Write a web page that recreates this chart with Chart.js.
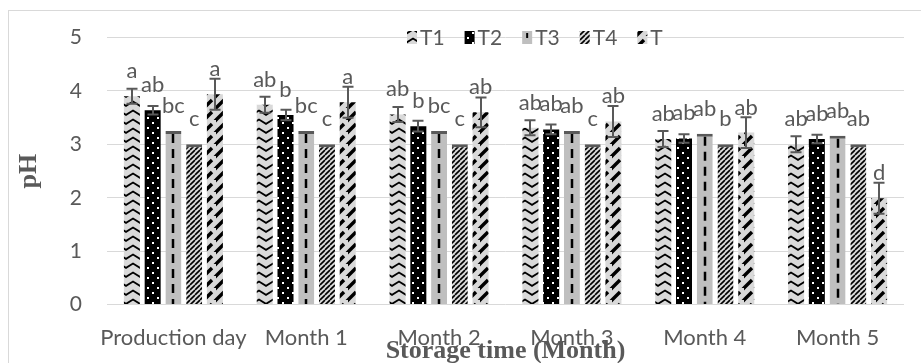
<!DOCTYPE html>
<html>
<head>
<meta charset="utf-8">
<script src="https://cdn.jsdelivr.net/npm/chart.js@4.4.1/dist/chart.umd.min.js"></script>
<style>
  html, body { margin: 0; padding: 0; background: #ffffff; }
  canvas { display: block; }
</style>
</head>
<body>
<canvas id="c" width="921" height="363"></canvas>
<script>
// ---- data ----
const categories = ['Production day', 'Month 1', 'Month 2', 'Month 3', 'Month 4', 'Month 5'];
const seriesNames = ['T1', 'T2', 'T3', 'T4', 'T'];
const t1Values = [3.90, 3.74, 3.56, 3.31, 3.10, 3.00];
const t2Values = [3.64, 3.55, 3.34, 3.28, 3.11, 3.10];
const t3Values = [3.25, 3.25, 3.25, 3.25, 3.20, 3.16];
const t4Values = [3.00, 3.00, 3.00, 3.00, 3.00, 3.00];
const tValues  = [3.94, 3.79, 3.60, 3.43, 3.22, 1.99];
const t1Errors = [0.14, 0.15, 0.14, 0.14, 0.15, 0.15];
const t2Errors = [0.08, 0.10, 0.10, 0.09, 0.08, 0.08];
const t3Errors = [0, 0, 0, 0, 0, 0];
const t4Errors = [0, 0, 0, 0, 0, 0];
const tErrors  = [0.29, 0.29, 0.28, 0.29, 0.29, 0.29];
const t1Letters = ['a', 'ab', 'ab', 'ab', 'ab', 'ab'];
const t2Letters = ['ab', 'b', 'b', 'ab', 'ab', 'ab'];
const t3Letters = ['bc', 'bc', 'bc', 'ab', 'ab', 'ab'];
const t4Letters = ['c', 'c', 'c', 'c', 'b', 'ab'];
const tLetters  = ['a', 'a', 'ab', 'ab', 'ab', 'd'];
const yTicks = [0, 1, 2, 3, 4, 5];

// ---- styles ----
const GRAY_TEXT = '#595959';
const FONT = 'Lato, "Open Sans", sans-serif';
const SERIF = '"Liberation Serif", "Times New Roman", serif';
const canvas = document.getElementById('c');
const ctx0 = canvas.getContext('2d');

function makePattern(w, h, draw) {
  const c = document.createElement('canvas');
  c.width = w; c.height = h;
  const g = c.getContext('2d');
  draw(g, w, h);
  return ctx0.createPattern(c, 'repeat');
}
const patZigzag = makePattern(14, 9, (g, w, h) => {
  g.fillStyle = '#d9d9d9'; g.fillRect(0, 0, w, h);
  g.strokeStyle = '#000'; g.lineWidth = 1.7;
  g.beginPath(); g.moveTo(-1, 7.5); g.lineTo(7, 2.5); g.lineTo(15, 7.5); g.stroke();
});
const patDots = makePattern(10, 10, (g, w, h) => {
  g.fillStyle = '#000'; g.fillRect(0, 0, w, h);
  g.fillStyle = '#fff'; g.fillRect(2, 2, 2, 2); g.fillRect(7, 7, 2, 2);
});
const patGray = '#bfbfbf';
const patStripes = makePattern(5, 5, (g, w, h) => {
  g.fillStyle = '#d9d9d9'; g.fillRect(0, 0, w, h);
  g.strokeStyle = '#000'; g.lineWidth = 1.6;
  g.beginPath();
  for (let k = -1; k <= 1; k++) { g.moveTo(k * w, h); g.lineTo(k * w + w, 0); }
  g.stroke();
});
const patWide = makePattern(12, 12, (g, w, h) => {
  g.fillStyle = '#d9d9d9'; g.fillRect(0, 0, w, h);
  g.strokeStyle = '#000'; g.lineWidth = 3.4; g.lineCap = 'butt';
  g.beginPath();
  g.moveTo(0, 12); g.lineTo(8, 4);
  g.moveTo(-6, 6); g.lineTo(2, -2);
  g.moveTo(6, 18); g.lineTo(14, 10);
  g.stroke();
});

const topBorder = { top: 3, left: 0, right: 0, bottom: 0 };
const datasets = [
  { label: seriesNames[0], data: t1Values, errors: t1Errors, letters: t1Letters, backgroundColor: patZigzag, borderWidth: 0 },
  { label: seriesNames[1], data: t2Values, errors: t2Errors, letters: t2Letters, backgroundColor: patDots, borderWidth: 0 },
  { label: seriesNames[2], data: t3Values, errors: t3Errors, letters: t3Letters, backgroundColor: patGray, centerDash: true, borderWidth: topBorder, borderColor: '#595959', borderSkipped: false },
  { label: seriesNames[3], data: t4Values, errors: t4Errors, letters: t4Letters, backgroundColor: patStripes, borderWidth: topBorder, borderColor: '#595959', borderSkipped: false },
  { label: seriesNames[4], data: tValues, errors: tErrors, letters: tLetters, backgroundColor: patWide, borderWidth: 0 }
];

// ---- plugins ----
const background = {
  id: 'background',
  beforeDraw(chart) {
    const c = chart.ctx;
    c.save();
    c.fillStyle = '#fff'; c.fillRect(0, 0, chart.width, chart.height);
    c.strokeStyle = '#d9d9d9'; c.lineWidth = 1;
    c.strokeRect(8.5, 10.5, chart.width - 5, chart.height);
    c.restore();
  }
};

function drawCenterDash(c, x, yTop, yBot) {
  c.save();
  c.strokeStyle = '#000'; c.lineWidth = 2.5; c.setLineDash([9, 6]);
  c.beginPath(); c.moveTo(x, yTop); c.lineTo(x, yBot); c.stroke();
  c.restore();
}

const centerDash = {
  id: 'centerDash',
  afterDatasetDraw(chart, args) {
    const ds = chart.data.datasets[args.index];
    if (!ds.centerDash) return;
    args.meta.data.forEach(bar => {
      drawCenterDash(chart.ctx, Math.round(bar.x), bar.y + 3, bar.base);
    });
  }
};

const errorBars = {
  id: 'errorBars',
  afterDatasetsDraw(chart) {
    const c = chart.ctx, y = chart.scales.y;
    c.save();
    c.strokeStyle = '#595959'; c.lineWidth = 2;
    chart.data.datasets.forEach((ds, i) => {
      chart.getDatasetMeta(i).data.forEach((bar, j) => {
        const e = ds.errors[j];
        if (!e) return;
        const v = ds.data[j];
        const yt = y.getPixelForValue(v + e), yb = y.getPixelForValue(v - e);
        const x = Math.round(bar.x);
        c.beginPath();
        c.moveTo(x, yt); c.lineTo(x, yb);
        c.moveTo(x - 5.5, yt); c.lineTo(x + 5.5, yt);
        c.moveTo(x - 5.5, yb); c.lineTo(x + 5.5, yb);
        c.stroke();
      });
    });
    c.restore();
  }
};

const letterLabels = {
  id: 'letterLabels',
  afterDatasetsDraw(chart) {
    const c = chart.ctx;
    c.save();
    c.fillStyle = GRAY_TEXT;
    c.font = '22px ' + FONT;
    c.textAlign = 'center';
    c.textBaseline = 'alphabetic';
    chart.data.datasets.forEach((ds, i) => {
      chart.getDatasetMeta(i).data.forEach((bar, j) => {
        c.fillText(ds.letters[j], bar.x, bar.y - 18);
      });
    });
    c.restore();
  }
};

const customLegend = {
  id: 'customLegend',
  afterDraw(chart) {
    const c = chart.ctx;
    c.save();
    c.font = '21px ' + FONT;
    c.textBaseline = 'middle';
    c.textAlign = 'left';
    let x = 407;
    const yc = 37;
    chart.data.datasets.forEach(ds => {
      c.fillStyle = ds.backgroundColor;
      c.fillRect(x, yc - 6, 10, 13);
      if (ds.centerDash) {
        c.fillStyle = '#000'; c.fillRect(x + 4, yc - 4, 2, 5);
      }
      c.fillStyle = GRAY_TEXT;
      c.fillText(ds.label, x + 13, yc + 1);
      x += 13 + c.measureText(ds.label).width + 20;
    });
    c.restore();
  }
};

new Chart(canvas, {
  type: 'bar',
  data: { labels: categories, datasets: datasets },
  plugins: [background, centerDash, errorBars, letterLabels, customLegend],
  options: {
    responsive: false,
    animation: false,
    devicePixelRatio: 1,
    layout: { padding: { top: 27, right: 17, left: 0, bottom: 0 }, autoPadding: false },
    datasets: { bar: { barPercentage: 0.771, categoryPercentage: 0.781 } },
    plugins: { legend: { display: false }, tooltip: { enabled: false } },
    scales: {
      x: {
        grid: { display: false, drawTicks: false },
        border: { display: false },
        ticks: { color: GRAY_TEXT, font: { family: FONT, size: 22 }, padding: 20, maxRotation: 0, autoSkip: false },
        title: { display: true, text: 'Storage time (Month)', color: GRAY_TEXT,
                 font: { family: SERIF, size: 26, weight: 'bold' },
                 padding: { top: 0, bottom: -4 } },
        afterFit(s) { s.height = 58.5; }
      },
      y: {
        min: 0, max: 5,
        afterBuildTicks(s) { s.ticks = yTicks.map(v => ({ value: v })); },
        grid: { color: '#d9d9d9', lineWidth: 1, drawTicks: false },
        border: { display: false },
        ticks: { color: GRAY_TEXT, font: { family: FONT, size: 21 }, padding: 25 },
        title: { display: true, text: 'pH', color: GRAY_TEXT,
                 font: { family: SERIF, size: 26, weight: 'bold' },
                 padding: { top: 14, bottom: 0 } },
        afterFit(s) { s.width = 107; }
      }
    }
  }
});
</script>
</body>
</html>
